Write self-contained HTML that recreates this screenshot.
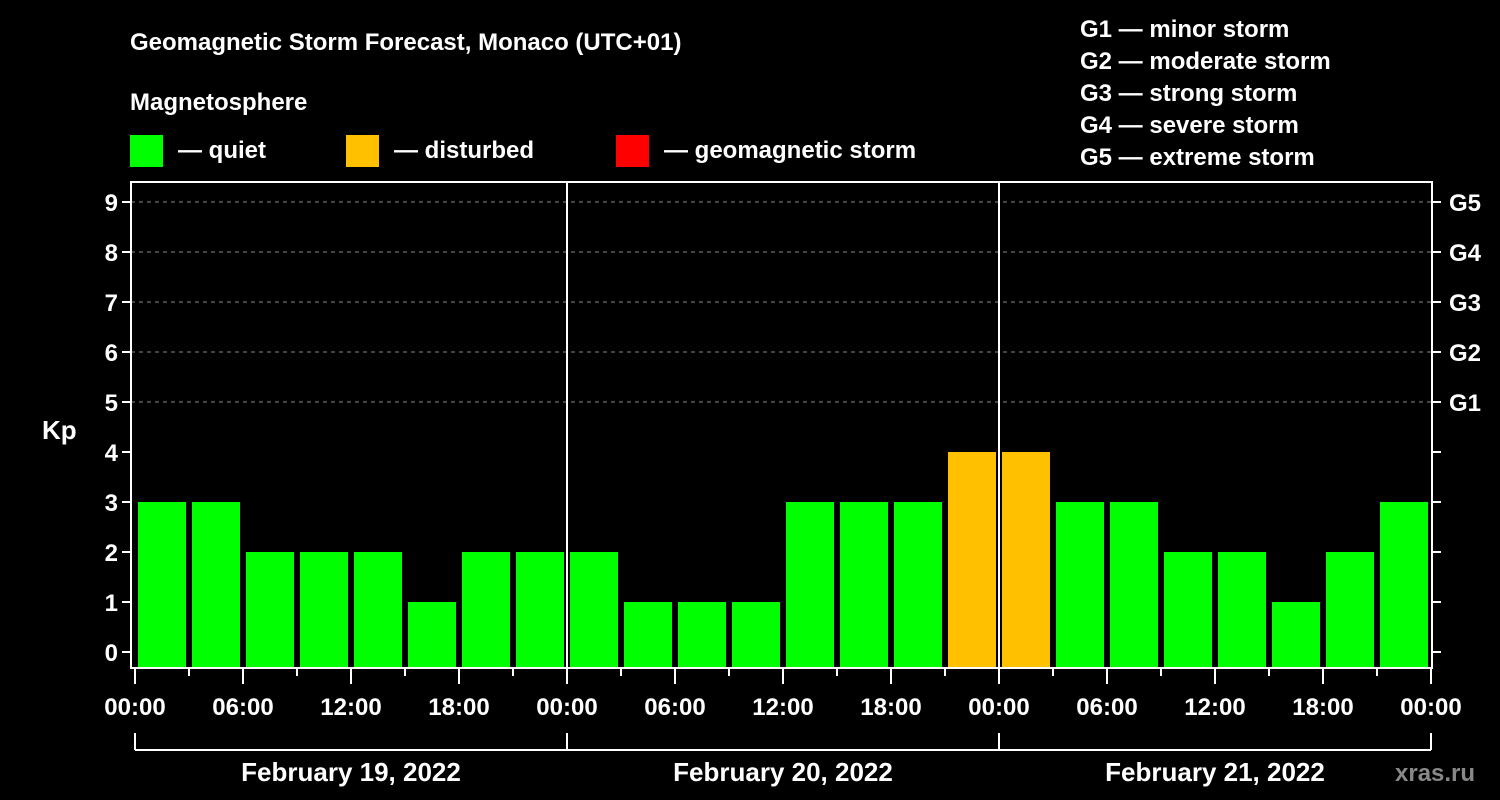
<!DOCTYPE html>
<html><head><meta charset="utf-8"><style>
html,body{margin:0;padding:0;background:#000;}
svg{display:block;font-family:"Liberation Sans",Arial,sans-serif;font-weight:bold;}
</style></head><body>
<svg id="chart" width="1500" height="800" viewBox="0 0 1500 800" xmlns="http://www.w3.org/2000/svg">
<rect width="1500" height="800" fill="#000"/>
<text x="130" y="50" fill="#fff" font-size="24">Geomagnetic Storm Forecast, Monaco (UTC+01)</text>
<text x="130" y="110" fill="#fff" font-size="24">Magnetosphere</text>
<g><rect x="130" y="135" width="33" height="32" fill="#00ff00"/><text x="178" y="158" fill="#fff" font-size="24">— quiet</text></g>
<g><rect x="346" y="135" width="33" height="32" fill="#ffc000"/><text x="394" y="158" fill="#fff" font-size="24">— disturbed</text></g>
<g><rect x="616" y="135" width="33" height="32" fill="#ff0000"/><text x="664" y="158" fill="#fff" font-size="24">— geomagnetic storm</text></g>
<g fill="#fff" font-size="24">
<text x="1080" y="37">G1 — minor storm</text>
<text x="1080" y="69">G2 — moderate storm</text>
<text x="1080" y="101">G3 — strong storm</text>
<text x="1080" y="133">G4 — severe storm</text>
<text x="1080" y="165">G5 — extreme storm</text>
</g>
<defs><clipPath id="plotclip"><rect x="136" y="182" width="1292" height="486"/></clipPath></defs>
<g id="grid"></g>
<g id="bars" clip-path="url(#plotclip)"></g>
<g id="axes"></g>
<text x="42" y="439" fill="#fff" font-size="26">Kp</text>
<text x="1395" y="781" fill="#888" font-size="24">xras.ru</text>
</svg>
<script>
const kpValues = [1,3,3,2,2,2,1,2,2,2,1,1,1,3,3,3,4,4,3,3,2,2,1,2,3];
const yTicks = [0,1,2,3,4,5,6,7,8,9];
const gLabels = ["G1","G2","G3","G4","G5"];
const gLevels = [5,6,7,8,9];
const xTickLabels = ["00:00","06:00","12:00","18:00","00:00","06:00","12:00","18:00","00:00","06:00","12:00","18:00","00:00"];
const dayLabels = ["February 19, 2022","February 20, 2022","February 21, 2022"];
const firstBarHour = -1.5; // center of first bar, hours from start
const NS="http://www.w3.org/2000/svg";
const X0=135, PX_PER_H=18, Y0=652, PX_PER_KP=50, LEFT=131, RIGHT=1432, TOP=182, BOTTOM=668;
const xs=h=>X0+h*PX_PER_H, ys=v=>Y0-v*PX_PER_KP;
function mk(tag,attrs,parent){const e=document.createElementNS(NS,tag);for(const k in attrs)e.setAttribute(k,attrs[k]);parent.appendChild(e);return e;}
const grid=document.getElementById('grid'),bars=document.getElementById('bars'),axes=document.getElementById('axes');
gLevels.forEach((v,i)=>{
  const l=mk('line',{x1:LEFT,x2:RIGHT,y1:ys(v),y2:ys(v),stroke:'#888','stroke-dasharray':'4,4','stroke-width':1},grid);
  
  
});
kpValues.forEach((v,i)=>{
  const c=xs(firstBarHour+3*i);
  const col=v>=5?'#ff0000':(v>=4?'#ffc000':'#00ff00');
  const r=mk('rect',{x:c-24,y:ys(v),width:48,height:BOTTOM-ys(v),fill:col},bars);
  
  
});
// frame
const fr=mk('rect',{x:LEFT,y:TOP,width:RIGHT-LEFT,height:BOTTOM-TOP,fill:'none',stroke:'#fff','stroke-width':2},axes);


[1,2].forEach(d=>{
  const l=mk('line',{x1:xs(24*d),x2:xs(24*d),y1:TOP,y2:BOTTOM,stroke:'#fff','stroke-width':2},axes);
  
  
});
yTicks.forEach(v=>{
  mk('line',{x1:LEFT-9,x2:LEFT,y1:ys(v),y2:ys(v),stroke:'#fff','stroke-width':2},axes);
  mk('line',{x1:RIGHT,x2:RIGHT+9,y1:ys(v),y2:ys(v),stroke:'#fff','stroke-width':2},axes);
  const t=mk('text',{x:LEFT-13,y:ys(v)+9,fill:'#fff','font-size':24,'text-anchor':'end'},axes);
  t.textContent=v;
  
  
});
gLabels.forEach((g,i)=>{
  const t=mk('text',{x:1449,y:ys(gLevels[i])+9,fill:'#fff','font-size':24},axes);
  t.textContent=g;
  
  
});
for(let h=0;h<=72;h+=3){
  const major=h%6===0;
  mk('line',{x1:xs(h),x2:xs(h),y1:BOTTOM,y2:BOTTOM+(major?16:8),stroke:'#fff','stroke-width':2},axes);
}
xTickLabels.forEach((s,i)=>{
  const t=mk('text',{x:xs(6*i),y:715,fill:'#fff','font-size':24,'text-anchor':'middle'},axes);
  t.textContent=s;
  
  
});
mk('line',{x1:xs(0),x2:xs(72),y1:750,y2:750,stroke:'#fff','stroke-width':2},axes);
for(let d=0;d<=3;d++) mk('line',{x1:xs(24*d),x2:xs(24*d),y1:733,y2:750,stroke:'#fff','stroke-width':2},axes);
dayLabels.forEach((s,i)=>{
  const t=mk('text',{x:xs(24*i+12),y:781,fill:'#fff','font-size':26,'text-anchor':'middle'},axes);
  t.textContent=s;
  
  
});
</script>
</body></html>
